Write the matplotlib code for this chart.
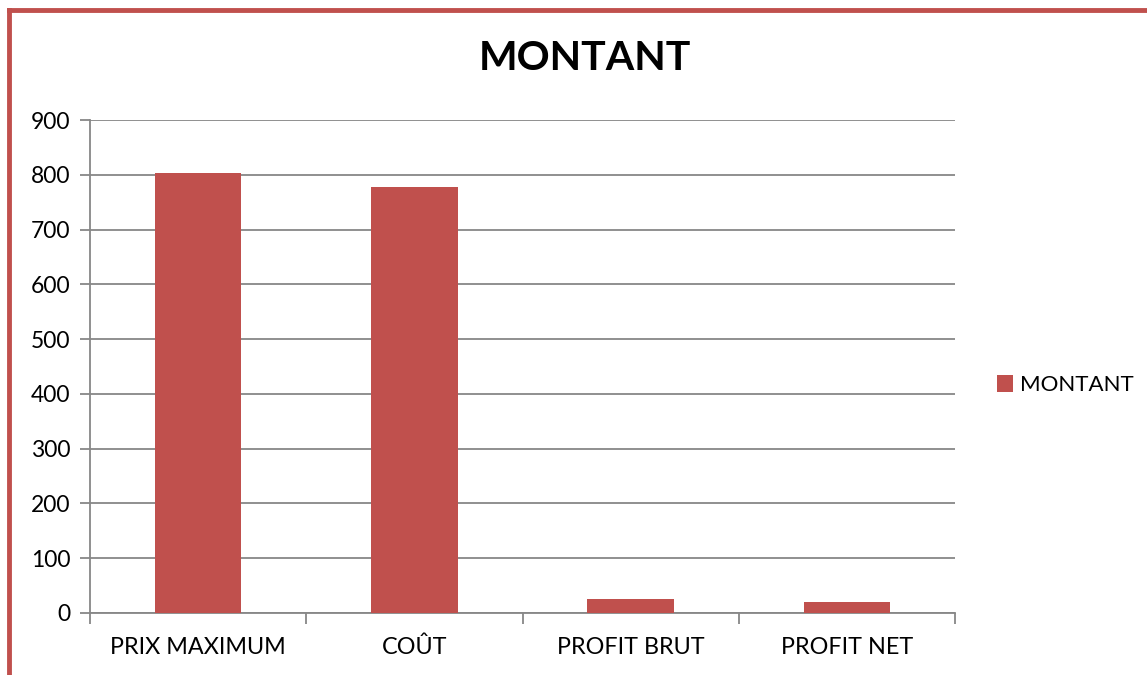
import matplotlib.pyplot as plt
from matplotlib.lines import Line2D
import numpy as np

# chart data
categories = ['PRIX MAXIMUM', 'COÛT', 'PROFIT BRUT', 'PROFIT NET']
montant = [804, 777, 25, 19]
series_name = 'MONTANT'

bar_color = '#C0504D'
grid_color = '#878787'

plt.rcParams['font.family'] = ['Lato', 'DejaVu Sans']

fig = plt.figure(figsize=(11.47, 6.75), dpi=100)
ax = fig.add_axes([0.0785, 0.092, 0.7541, 0.730])

x = np.arange(len(categories))
ax.bar(x, montant, width=0.4, color=bar_color, zorder=3, label=series_name)

ax.set_xlim(-0.5, len(categories) - 0.5)
ax.set_ylim(0, 900)
ax.set_yticks(range(0, 901, 100))
ax.yaxis.grid(True, color=grid_color, linewidth=1.3, zorder=0)

ax.set_xticks(x)
ax.set_xticklabels(categories)
ax.set_xticks(np.arange(-0.5, len(categories), 1), minor=True)
ax.tick_params(axis='x', which='major', length=0, pad=17, labelsize=16.8)
ax.tick_params(axis='x', which='minor', length=8, width=1.3, color=grid_color)
ax.tick_params(axis='y', length=7, width=1.3, color=grid_color, labelsize=16.5, pad=7)

for side in ['top', 'right']:
    ax.spines[side].set_visible(False)
for side in ['left', 'bottom']:
    ax.spines[side].set_color(grid_color)
    ax.spines[side].set_linewidth(1.3)

fig.text(0.510, 0.913, 'MONTANT', ha='center', va='center', fontsize=29.5, fontweight='bold')

ax.legend(loc='center left', bbox_to_anchor=(1.025, 0.462), frameon=False,
          fontsize=16, handlelength=0.75, handleheight=0.75, handletextpad=0.3)

# outer chart border (cropped at right and bottom)
fig.add_artist(Line2D([9 / 1147, 9 / 1147], [0, 1 - 10 / 675], color=bar_color, linewidth=3.5,
                      transform=fig.transFigure))
fig.add_artist(Line2D([9 / 1147, 1], [1 - 10 / 675, 1 - 10 / 675], color=bar_color, linewidth=3.5,
                      transform=fig.transFigure))

plt.savefig('out.png', dpi=100)
plt.close()
